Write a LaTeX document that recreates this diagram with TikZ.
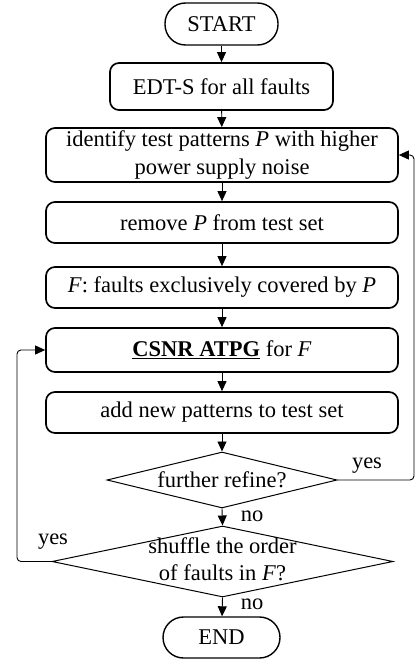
\documentclass[tikz,border=0pt]{standalone}
\usepackage{fontspec}
\setmainfont{Liberation Serif}
\usetikzlibrary{shapes.geometric,arrows.meta}
\begin{document}
\begin{tikzpicture}[x=1pt,y=-1pt,
  font=\fontsize{22.5pt}{28pt}\selectfont,
  box/.style={draw, line width=1.7pt, rounded corners=9pt, minimum width=352pt, align=center, inner sep=0pt},
  term/.style={draw, line width=1.4pt, rounded corners=20.5pt, inner sep=0pt},
  dia/.style={draw, diamond, line width=1pt, inner sep=0pt},
  arr/.style={line width=0.9pt, -{Triangle[length=10pt,width=9pt]}},
  loop/.style={line width=0.9pt, rounded corners=4pt, -{Triangle[length=10pt,width=9pt]}},
  lbl/.style={inner sep=0pt}]
\useasboundingbox (0,0) rectangle (418,663);
\node[term, minimum width=113pt, minimum height=42pt] (start) at (221.5,24) {START};
\node[box, minimum width=223pt, minimum height=47pt] (edt) at (221.5,86.5) {EDT-S for all faults};
\node[box, minimum height=54pt] (ident) at (222,155) {identify test patterns \textit{P} with higher\\power supply noise};
\node[box, minimum height=41pt] (remove) at (222,222.5) {remove \textit{P} from test set};
\node[box, minimum height=41pt] (fset) at (222,287.5) {\textit{F}: faults exclusively covered by \textit{P}};
\node[box, minimum height=44pt] (csnr) at (222,350) {\underline{\textbf{CSNR ATPG}} for \textit{F}};
\node[box, minimum height=41pt] (addp) at (222,412.5) {add new patterns to test set};
\node[dia, minimum width=230pt, minimum height=56pt] (d1) at (222,480) {\makebox[0pt]{further refine?}};
\node[dia, minimum width=341pt, minimum height=71pt] (d2) at (222.5,561.5) {\makebox[0pt]{\begin{tabular}{@{}c@{}}shuffle the order\\[-1pt]of faults in \textit{F}?\end{tabular}}};
\node[term, minimum width=117pt, minimum height=41pt] (finish) at (221.5,637.5) {END};

\draw[arr] (start) -- (edt);
\draw[arr] (edt) -- (ident);
\draw[arr] (ident) -- (remove);
\draw[arr] (remove) -- (fset);
\draw[arr] (fset) -- (csnr);
\draw[arr] (csnr) -- (addp);
\draw[arr] (addp) -- (d1.north);
\draw[arr] (d1.south) -- (d2.north);
\draw[arr] (d2.south) -- (finish);

\coordinate (rr) at (414,480);
\coordinate (ll) at (17,561.5);
\draw[loop] (d1.east) -- (rr) |- (ident.east);
\draw[loop] (d2.west) -- (ll) |- (csnr.west);

\node[lbl] (yes1) at (367,466) {yes};
\node[lbl] (no1) at (252,516) {no};
\node[lbl] (yes2) at (53,542) {yes};
\node[lbl] (no2) at (252,604) {no};
\end{tikzpicture}
\end{document}
